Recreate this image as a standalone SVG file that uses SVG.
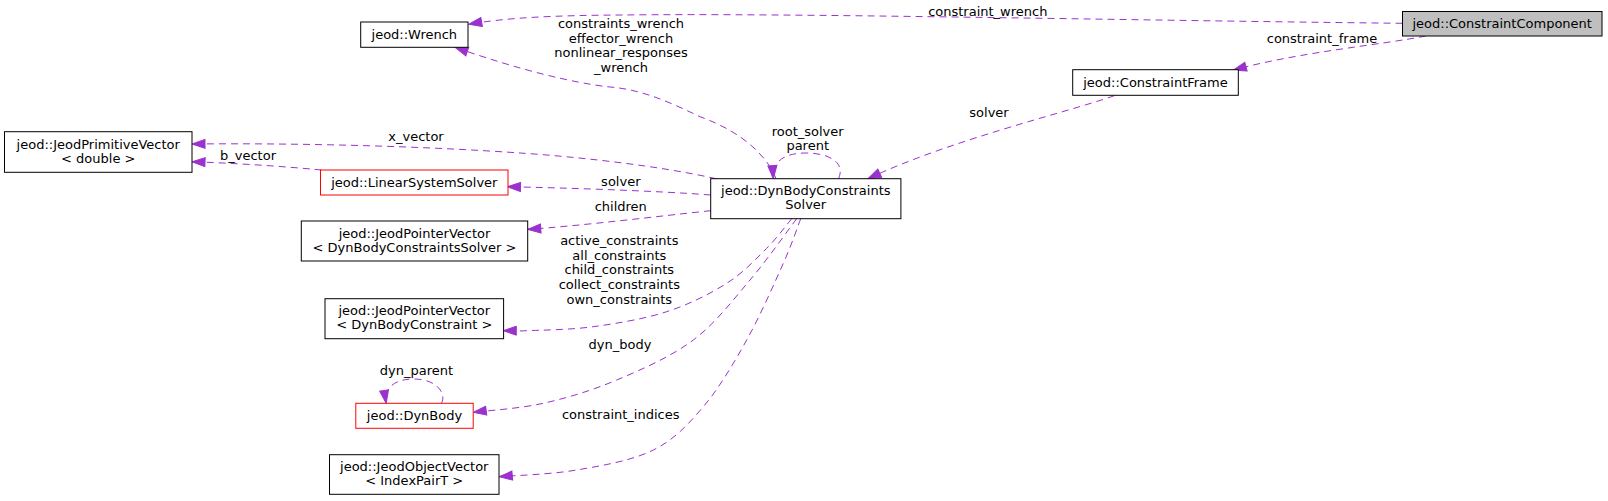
<svg xmlns="http://www.w3.org/2000/svg" width="1608" height="501" viewBox="0 0 1608 501">
<defs>
<style>
.box{fill:#ffffff;stroke:#000000;stroke-width:1}
.red{fill:#ffffff;stroke:#ff0000;stroke-width:1}
.root{fill:#bfbfbf;stroke:#000000;stroke-width:1}
text{font-family:"DejaVu Sans","Liberation Sans",sans-serif;font-size:13px;fill:#000000;text-anchor:middle}
.edge{fill:none;stroke:#9a32cd;stroke-width:1;stroke-dasharray:7,5;marker-end:url(#ah)}
</style>
<marker id="ah" markerUnits="userSpaceOnUse" markerWidth="13" markerHeight="9" viewBox="0 0 13 9" refX="13" refY="4.5" orient="auto" overflow="visible">
<path d="M0,0 L13,4.5 L0,9 z" fill="#9a32cd" stroke="#9a32cd" stroke-width="1"/>
</marker>
</defs>
<rect width="1608" height="501" fill="#ffffff"/>
<g id="edges">
<path class="edge" d="M1402.6,23.3 C1100,20 800,13 620,15 C560,15.5 510,17 468.8,24.3"/>
<path class="edge" d="M1425.8,36 C1380,45 1300,52 1233.4,70"/>
<path class="edge" d="M1114.3,95.7 C1065,113 950,140 868,178.7"/>
<path class="edge" d="M776,178.7 C768,158 745,133 700,116.7 C665,100 640,89 606.7,86.7 C570,82 520,70 455,47.3"/>
<path class="edge" d="M838.5,178.7 C846,162 828,153 806,153 C786,153 772,160 773.3,178.7"/>
<path class="edge" d="M716,178.7 C660,166 580,157 520,153 C420,146 300,143 192,144"/>
<path class="edge" d="M321.5,170 C280,166 230,163 192,161.7"/>
<path class="edge" d="M710.7,195 C660,191 570,188 507.5,186.7"/>
<path class="edge" d="M710.7,210.7 C660,216 580,226 527.8,229.3"/>
<path class="edge" d="M791.7,218.7 C787.5,223.6 777.5,237.5 766.7,248.3 C755.9,259.1 743.4,272.7 726.7,283.3 C710,293.9 688.9,304.5 666.7,311.7 C644.5,318.9 616.6,323.5 593.3,326.7 C570,329.9 541.7,330 526.7,330.7 C511.7,331.4 507.2,330.7 503.3,330.7"/>
<path class="edge" d="M796.7,218.7 C788.9,228.9 767.2,259.8 750,280 C732.8,300.2 715.5,323.3 693.3,340 C671.1,356.7 641.7,369.5 616.7,380 C591.7,390.6 567.2,397.9 543.3,403.3 C519.4,408.7 485,410.8 473.3,412.3"/>
<path class="edge" d="M800.7,218.7 C797.8,226.1 792.3,243.1 783.3,263.3 C774.3,283.5 760,316.1 746.7,340 C733.4,363.9 718.9,388.4 703.3,406.7 C687.7,425 674.4,439.5 653.3,450 C632.2,460.6 602.4,465.6 576.7,470 C551,474.5 512.2,475.6 499.3,476.7"/>
<path class="edge" d="M441.5,403.3 C447,392 435,379 414,379 C392,379 384,390 386.2,403.3"/>
<text x="987.8" y="16.2">constraint_wrench</text>
<text x="1322" y="43.2">constraint_frame</text>
<text x="989" y="117.2">solver</text>
<text x="621" y="28">constraints_wrench</text>
<text x="621" y="42.5">effector_wrench</text>
<text x="621" y="57">nonlinear_responses</text>
<text x="621" y="71.5">_wrench</text>
<text x="807.7" y="135.5">root_solver</text>
<text x="807.7" y="150">parent</text>
<text x="416" y="141.2">x_vector</text>
<text x="248" y="159.8">b_vector</text>
<text x="620.8" y="185.5">solver</text>
<text x="620.8" y="211">children</text>
<text x="619.3" y="245.2">active_constraints</text>
<text x="619.3" y="259.8">all_constraints</text>
<text x="619.3" y="274.4">child_constraints</text>
<text x="619.3" y="289">collect_constraints</text>
<text x="619.3" y="303.6">own_constraints</text>
<text x="620" y="348.5">dyn_body</text>
<text x="416.5" y="375">dyn_parent</text>
<text x="620.7" y="418.8">constraint_indices</text>
</g>
<g id="ConstraintComponent">
<rect class="root" x="1402.5" y="11.5" width="199.5" height="24.5"/>
<text x="1502.2" y="28.3">jeod::ConstraintComponent</text>
</g>
<g id="Wrench">
<rect class="box" x="360.7" y="22" width="107.3" height="25.3"/>
<text x="414.3" y="39">jeod::Wrench</text>
</g>
<g id="ConstraintFrame">
<rect class="box" x="1072.7" y="69.7" width="165.6" height="25.6"/>
<text x="1155.5" y="87">jeod::ConstraintFrame</text>
</g>
<g id="JeodPrimitiveVector">
<rect class="box" x="4.5" y="131.7" width="187.5" height="40.6"/>
<text x="98.25" y="148.5">jeod::JeodPrimitiveVector</text>
<text x="98.25" y="162.8">&lt; double &gt;</text>
</g>
<g id="LinearSystemSolver">
<rect class="red" x="320.5" y="170" width="187.5" height="25"/>
<text x="414.3" y="187">jeod::LinearSystemSolver</text>
</g>
<g id="DynBodyConstraintsSolver">
<rect class="box" x="710.7" y="178.7" width="190.2" height="40"/>
<text x="805.8" y="195">jeod::DynBodyConstraints</text>
<text x="805.8" y="209">Solver</text>
</g>
<g id="JeodPointerVectorSolver">
<rect class="box" x="301.3" y="221" width="226.4" height="40"/>
<text x="414.5" y="237.5">jeod::JeodPointerVector</text>
<text x="414.5" y="251.5">&lt; DynBodyConstraintsSolver &gt;</text>
</g>
<g id="JeodPointerVectorConstraint">
<rect class="box" x="325" y="298.7" width="178.6" height="40"/>
<text x="414.3" y="315.2">jeod::JeodPointerVector</text>
<text x="414.3" y="328.8">&lt; DynBodyConstraint &gt;</text>
</g>
<g id="DynBody">
<rect class="red" x="355.8" y="403.3" width="117.4" height="25"/>
<text x="414.5" y="420.3">jeod::DynBody</text>
</g>
<g id="JeodObjectVector">
<rect class="box" x="329.5" y="454.7" width="169.5" height="39.6"/>
<text x="414.25" y="471.2">jeod::JeodObjectVector</text>
<text x="414.25" y="485.2">&lt; IndexPairT &gt;</text>
</g>
</svg>
